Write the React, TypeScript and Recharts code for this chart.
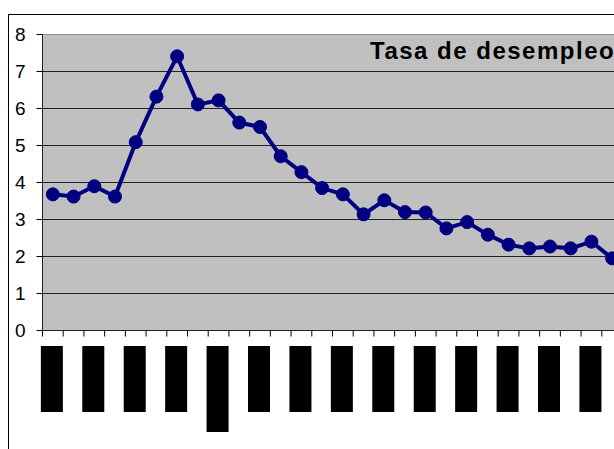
import React from 'react';
import { LineChart, Line, XAxis, YAxis, CartesianGrid, ReferenceLine } from 'recharts';

// semestral periods, labels shown once per year
const periods = [
  'I-90', 'II-90', 'I-91', 'II-91', 'I-92', 'II-92', 'I-93', 'II-93', 'I-94', 'II-94',
  'I-95', 'II-95', 'I-96', 'II-96', 'I-97', 'II-97', 'I-98', 'II-98', 'I-99', 'II-99',
  'I-00', 'II-00', 'I-01', 'II-01', 'I-02', 'II-02', 'I-03', 'II-03',
];
const unemployment = [
  3.68, 3.62, 3.9, 3.62, 5.09, 6.32, 7.41, 6.11, 6.22, 5.62,
  5.5, 4.71, 4.28, 3.85, 3.68, 3.14, 3.52, 3.2, 3.19, 2.76,
  2.93, 2.59, 2.32, 2.22, 2.27, 2.22, 2.4, 1.95,
];
const tickLabels = [
  '1990', '1991', '1992', '1993', '1994 (p)', '1995', '1996',
  '1997', '1998', '1999', '2000', '2001', '2002', '2003',
];
const yTicks = [0, 1, 2, 3, 4, 5, 6, 7, 8];

const data = periods.map((p, i) => ({ i, period: p, rate: unemployment[i] }));
// tick marks sit between periods, labels on every second period
const boundaries = periods.map((_, i) => i - 0.5).concat(periods.length - 0.5);
const labelTicks = tickLabels.map((_, k) => k * 2);
const xTicks = [...boundaries, ...labelTicks].sort((a, b) => a - b);

const XTick = (props: any) => {
  const { x, y, payload } = props;
  const v = payload.value;
  if (!Number.isInteger(v)) {
    return <line x1={x} x2={x} y1={y} y2={y + 6} stroke="#000" />;
  }
  const label = tickLabels[v / 2] ?? '';
  const h = 46 + 5 * label.length;
  return (
    <g>
      <rect x={x - 12} y={y + 15.5} width={22} height={h} fill="#000" />
      <text
        x={x}
        y={y + 16}
        transform={`rotate(-90 ${x} ${y + 16})`}
        textAnchor="end"
        dominantBaseline="middle"
        fontSize={14}
        fill="#000"
      >
        {label}
      </text>
    </g>
  );
};

const App: React.FC = () => {
  return (
    <div
      style={{
        position: 'absolute',
        left: 8,
        top: 14,
        width: 606,
        height: 435,
        overflow: 'hidden',
        borderTop: '1px solid #000',
        borderLeft: '1px solid #000',
        background: '#fff',
        fontFamily: '"Liberation Sans", Arial, sans-serif',
      }}
    >
      <LineChart width={700} height={500} data={data} margin={{ top: 19.5, right: 86.5, left: 0.5, bottom: 74.5 }}>
        <CartesianGrid vertical={false} fill="#C0C0C0" stroke="#222" fillOpacity={1} />
        <XAxis
          type="number"
          dataKey="i"
          domain={[-0.5, 27.5]}
          ticks={xTicks}
          interval={0}
          tick={XTick}
          tickSize={0}
          tickMargin={0}
          tickLine={false}
          axisLine={{ stroke: '#222' }}
          height={110}
        />
        <YAxis
          type="number"
          domain={[0, 8]}
          ticks={yTicks}
          width={33}
          tickSize={6}
          tickMargin={11}
          tick={{ fill: '#000', fontSize: 19 }}
          tickLine={{ stroke: '#000' }}
          axisLine={{ stroke: '#222' }}
        />
        <ReferenceLine y={8} stroke="#8c8c8c" />
        <Line
          type="linear"
          dataKey="rate"
          stroke="#000080"
          strokeWidth={4}
          dot={{ r: 6.5, fill: '#000080', stroke: '#000080', strokeWidth: 1 }}
          isAnimationActive={false}
        />
      </LineChart>
      <div
        style={{
          position: 'absolute',
          left: 361,
          top: 24,
          fontSize: 24,
          lineHeight: 1,
          fontWeight: 'bold',
          letterSpacing: 1.5,
          whiteSpace: 'nowrap',
          color: '#000',
        }}
      >
        Tasa de desempleo
      </div>
    </div>
  );
};

export default App;
